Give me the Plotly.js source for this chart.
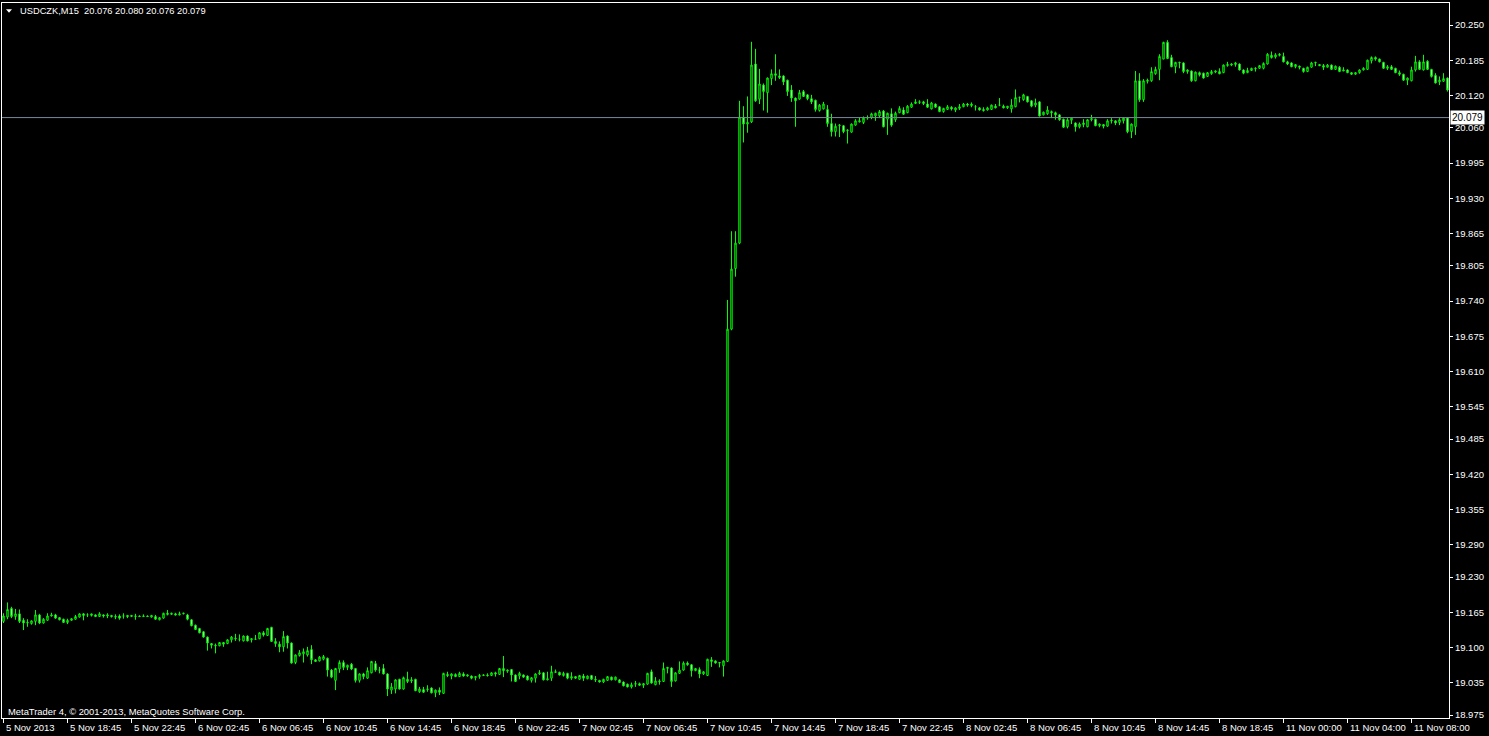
<!DOCTYPE html>
<html>
<head>
<meta charset="utf-8">
<script src="https://cdn.plot.ly/plotly-3.0.1.min.js"></script>
<style>
html,body{margin:0;padding:0;background:#000;}
#chart{width:1489px;height:736px;}
</style>
</head>
<body>
<div id="chart"></div>
<script>
// ---- data: USDCZK M15 candles ----
const symbolTitle = "USDCZK,M15  20.076 20.080 20.076 20.079";
const copyrightText = "MetaTrader 4, \u00a9 2001-2013, MetaQuotes Software Corp.";
const currentPrice = 20.079;

const openP = [
19.148,19.156,19.172,19.157,19.162,19.150,19.145,19.144,19.148,19.160,
19.145,19.150,19.158,19.160,19.155,19.152,19.146,19.150,19.152,19.156,
19.162,19.160,19.159,19.160,19.157,19.160,19.158,19.159,19.157,19.158,
19.158,19.159,19.157,19.157,19.158,19.157,19.158,19.156,19.157,19.151,
19.154,19.163,19.161,19.162,19.160,19.162,19.160,19.151,19.141,19.135,
19.129,19.119,19.107,19.104,19.103,19.109,19.107,19.114,19.117,19.115,
19.112,19.121,19.114,19.115,19.116,19.127,19.122,19.137,19.111,19.106,
19.101,19.121,19.108,19.072,19.085,19.088,19.086,19.096,19.077,19.075,
19.078,19.080,19.058,19.039,19.060,19.072,19.063,19.069,19.061,19.039,
19.051,19.043,19.053,19.070,19.058,19.061,19.051,19.021,19.023,19.041,
19.023,19.041,19.038,19.041,19.018,19.022,19.022,19.025,19.016,19.021,
19.015,19.050,19.047,19.050,19.046,19.051,19.047,19.047,19.044,19.046,
19.048,19.049,19.048,19.053,19.050,19.061,19.056,19.059,19.049,19.047,
19.049,19.047,19.039,19.043,19.051,19.053,19.040,19.043,19.055,19.054,
19.048,19.052,19.043,19.046,19.041,19.047,19.042,19.048,19.041,19.039,
19.036,19.039,19.045,19.040,19.040,19.036,19.032,19.027,19.032,19.033,
19.030,19.032,19.055,19.031,19.038,19.037,19.061,19.062,19.038,19.052,
19.058,19.071,19.068,19.057,19.059,19.051,19.048,19.077,19.075,19.071,
19.066,19.074,19.688,19.800,19.847,20.080,20.067,20.071,20.178,20.113,
20.139,20.125,20.151,20.160,20.156,20.156,20.148,20.130,20.115,20.113,
20.127,20.121,20.114,20.111,20.092,20.095,20.094,20.068,20.053,20.064,
20.064,20.055,20.052,20.065,20.071,20.070,20.078,20.079,20.082,20.082,
20.091,20.076,20.086,20.075,20.088,20.093,20.088,20.098,20.105,20.107,
20.108,20.104,20.095,20.104,20.099,20.090,20.094,20.098,20.093,20.096,
20.099,20.104,20.101,20.099,20.097,20.094,20.093,20.094,20.100,20.102,
20.100,20.097,20.095,20.099,20.116,20.112,20.118,20.110,20.102,20.108,
20.084,20.086,20.090,20.088,20.084,20.076,20.062,20.074,20.069,20.062,
20.066,20.062,20.075,20.076,20.064,20.066,20.063,20.074,20.073,20.070,
20.073,20.078,20.053,20.062,20.147,20.112,20.146,20.147,20.160,20.168,
20.187,20.218,20.190,20.173,20.180,20.180,20.164,20.165,20.147,20.162,
20.161,20.155,20.160,20.163,20.164,20.162,20.175,20.176,20.177,20.178,
20.167,20.162,20.166,20.169,20.170,20.170,20.178,20.194,20.191,20.194,
20.192,20.182,20.180,20.173,20.174,20.170,20.164,20.172,20.180,20.177,
20.175,20.172,20.176,20.168,20.172,20.165,20.167,20.162,20.159,20.162,
20.167,20.168,20.184,20.190,20.187,20.181,20.170,20.173,20.170,20.162,
20.159,20.148,20.147,20.167,20.182,20.167,20.183,20.168,20.157,20.145,
20.146,20.152];

const highP = [
19.163,19.183,19.175,19.171,19.170,19.154,19.152,19.150,19.169,19.162,
19.154,19.163,19.164,19.162,19.156,19.153,19.153,19.154,19.160,19.163,
19.163,19.163,19.162,19.161,19.165,19.161,19.163,19.160,19.161,19.161,
19.163,19.160,19.159,19.162,19.159,19.161,19.159,19.160,19.160,19.156,
19.164,19.169,19.164,19.164,19.166,19.164,19.162,19.152,19.142,19.136,
19.130,19.120,19.108,19.107,19.110,19.110,19.115,19.121,19.125,19.124,
19.122,19.122,19.117,19.123,19.128,19.130,19.136,19.138,19.117,19.111,
19.130,19.122,19.109,19.087,19.095,19.098,19.101,19.104,19.078,19.084,
19.086,19.081,19.060,19.062,19.076,19.076,19.068,19.071,19.062,19.052,
19.053,19.063,19.075,19.075,19.064,19.069,19.052,19.034,19.041,19.042,
19.046,19.055,19.045,19.042,19.027,19.027,19.030,19.026,19.022,19.026,
19.053,19.055,19.052,19.052,19.055,19.054,19.050,19.048,19.047,19.051,
19.050,19.052,19.054,19.055,19.062,19.084,19.059,19.060,19.050,19.055,
19.050,19.048,19.045,19.052,19.058,19.054,19.055,19.066,19.059,19.055,
19.055,19.053,19.054,19.047,19.049,19.051,19.048,19.049,19.047,19.040,
19.042,19.047,19.046,19.046,19.041,19.037,19.033,19.035,19.038,19.035,
19.034,19.053,19.059,19.045,19.041,19.072,19.064,19.063,19.054,19.074,
19.074,19.074,19.069,19.062,19.063,19.056,19.079,19.082,19.076,19.073,
19.076,19.742,19.869,19.869,20.110,20.100,20.118,20.219,20.206,20.169,
20.142,20.153,20.168,20.196,20.168,20.157,20.149,20.139,20.116,20.130,
20.130,20.122,20.121,20.112,20.104,20.108,20.102,20.086,20.068,20.067,
20.065,20.057,20.068,20.076,20.079,20.081,20.083,20.088,20.088,20.093,
20.093,20.088,20.096,20.090,20.100,20.098,20.102,20.107,20.113,20.111,
20.110,20.113,20.108,20.105,20.100,20.097,20.102,20.100,20.098,20.104,
20.106,20.106,20.107,20.102,20.098,20.098,20.099,20.103,20.104,20.115,
20.103,20.100,20.113,20.131,20.118,20.123,20.119,20.111,20.114,20.109,
20.090,20.100,20.092,20.090,20.085,20.077,20.078,20.080,20.070,20.070,
20.076,20.076,20.084,20.077,20.068,20.067,20.076,20.078,20.074,20.078,
20.080,20.079,20.068,20.165,20.161,20.150,20.151,20.172,20.173,20.196,
20.219,20.222,20.195,20.182,20.182,20.181,20.168,20.166,20.164,20.164,
20.162,20.163,20.167,20.166,20.170,20.177,20.182,20.179,20.182,20.179,
20.168,20.171,20.171,20.172,20.176,20.181,20.198,20.201,20.198,20.198,
20.199,20.184,20.181,20.178,20.175,20.171,20.173,20.182,20.182,20.178,
20.178,20.178,20.177,20.175,20.174,20.172,20.168,20.163,20.163,20.168,
20.172,20.186,20.192,20.192,20.188,20.182,20.176,20.176,20.171,20.166,
20.160,20.153,20.173,20.193,20.185,20.195,20.185,20.169,20.161,20.155,
20.161,20.153];

const lowP = [
19.145,19.152,19.154,19.151,19.145,19.132,19.138,19.142,19.141,19.143,
19.144,19.149,19.157,19.153,19.150,19.145,19.143,19.149,19.151,19.155,
19.150,19.156,19.157,19.156,19.156,19.155,19.154,19.155,19.152,19.151,
19.153,19.154,19.156,19.151,19.156,19.156,19.156,19.155,19.151,19.150,
19.153,19.159,19.160,19.159,19.159,19.161,19.150,19.139,19.132,19.126,
19.118,19.094,19.098,19.089,19.102,19.101,19.106,19.109,19.112,19.111,
19.111,19.111,19.109,19.114,19.115,19.120,19.121,19.110,19.101,19.091,
19.092,19.098,19.070,19.069,19.083,19.072,19.083,19.069,19.073,19.074,
19.076,19.046,19.043,19.021,19.053,19.058,19.058,19.058,19.035,19.035,
19.041,19.042,19.052,19.055,19.052,19.050,19.010,19.014,19.015,19.022,
19.022,19.034,19.034,19.019,19.016,19.016,19.018,19.015,19.008,19.012,
19.014,19.045,19.041,19.045,19.045,19.046,19.046,19.041,19.039,19.042,
19.047,19.046,19.047,19.046,19.049,19.045,19.053,19.037,19.036,19.041,
19.044,19.039,19.035,19.035,19.049,19.039,19.039,19.038,19.053,19.048,
19.046,19.041,19.040,19.042,19.040,19.038,19.041,19.040,19.036,19.035,
19.034,19.038,19.039,19.039,19.034,19.028,19.026,19.024,19.027,19.029,
19.025,19.031,19.033,19.030,19.031,19.036,19.052,19.027,19.037,19.051,
19.057,19.066,19.046,19.056,19.043,19.049,19.047,19.064,19.070,19.063,
19.046,19.073,19.686,19.785,19.845,20.033,20.051,20.069,20.108,20.104,
20.092,20.088,20.139,20.147,20.150,20.139,20.119,20.108,20.062,20.112,
20.117,20.111,20.104,20.090,20.090,20.094,20.062,20.044,20.044,20.043,
20.050,20.031,20.051,20.064,20.070,20.067,20.075,20.076,20.073,20.078,
20.061,20.047,20.062,20.071,20.087,20.084,20.087,20.097,20.104,20.104,
20.102,20.097,20.094,20.097,20.089,20.088,20.093,20.092,20.089,20.093,
20.098,20.099,20.098,20.092,20.092,20.090,20.092,20.093,20.096,20.100,
20.096,20.095,20.088,20.098,20.107,20.110,20.107,20.098,20.098,20.081,
20.083,20.084,20.078,20.075,20.073,20.060,20.059,20.067,20.053,20.059,
20.061,20.061,20.072,20.063,20.061,20.059,20.062,20.068,20.065,20.065,
20.068,20.050,20.041,20.047,20.108,20.108,20.142,20.145,20.158,20.148,
20.187,20.187,20.172,20.161,20.170,20.161,20.160,20.145,20.146,20.155,
20.151,20.154,20.158,20.161,20.159,20.161,20.173,20.174,20.173,20.166,
20.159,20.161,20.165,20.164,20.169,20.168,20.177,20.188,20.188,20.192,
20.181,20.176,20.172,20.170,20.168,20.162,20.163,20.171,20.174,20.174,
20.167,20.172,20.167,20.167,20.163,20.165,20.161,20.158,20.158,20.160,
20.166,20.167,20.179,20.184,20.181,20.169,20.167,20.167,20.161,20.156,
20.147,20.139,20.146,20.164,20.167,20.166,20.167,20.153,20.142,20.139,
20.145,20.127];

const closeP = [
19.158,19.170,19.157,19.162,19.148,19.145,19.146,19.149,19.160,19.145,
19.152,19.158,19.160,19.154,19.151,19.146,19.150,19.153,19.157,19.162,
19.159,19.160,19.162,19.157,19.162,19.158,19.160,19.157,19.156,19.154,
19.158,19.157,19.159,19.158,19.157,19.158,19.157,19.159,19.152,19.155,
19.163,19.161,19.163,19.160,19.162,19.163,19.152,19.140,19.133,19.127,
19.119,19.108,19.104,19.103,19.109,19.106,19.114,19.119,19.116,19.115,
19.121,19.112,19.116,19.115,19.127,19.123,19.135,19.111,19.107,19.101,
19.120,19.108,19.071,19.086,19.090,19.092,19.094,19.077,19.074,19.082,
19.083,19.058,19.045,19.061,19.072,19.063,19.067,19.060,19.039,19.051,
19.046,19.057,19.074,19.058,19.058,19.051,19.023,19.027,19.040,19.023,
19.044,19.037,19.040,19.020,19.023,19.017,19.023,19.016,19.021,19.017,
19.052,19.048,19.051,19.046,19.052,19.047,19.049,19.043,19.046,19.048,
19.049,19.048,19.053,19.051,19.061,19.057,19.058,19.049,19.037,19.052,
19.045,19.040,19.044,19.051,19.053,19.040,19.042,19.055,19.054,19.049,
19.052,19.043,19.046,19.043,19.048,19.043,19.047,19.041,19.040,19.036,
19.041,19.046,19.040,19.045,19.035,19.029,19.027,19.031,19.033,19.030,
19.033,19.052,19.034,19.038,19.037,19.061,19.063,19.037,19.053,19.058,
19.071,19.068,19.057,19.061,19.051,19.055,19.078,19.074,19.071,19.072,
19.075,19.688,19.799,19.847,20.080,20.067,20.070,20.176,20.110,20.141,
20.127,20.152,20.160,20.157,20.153,20.145,20.127,20.115,20.110,20.125,
20.118,20.114,20.108,20.094,20.102,20.104,20.068,20.053,20.063,20.065,
20.053,20.056,20.067,20.073,20.073,20.078,20.079,20.086,20.087,20.090,
20.062,20.087,20.065,20.087,20.096,20.085,20.100,20.104,20.108,20.108,
20.105,20.098,20.106,20.098,20.090,20.096,20.099,20.095,20.097,20.099,
20.104,20.102,20.104,20.099,20.093,20.092,20.097,20.102,20.097,20.102,
20.097,20.100,20.102,20.116,20.116,20.121,20.108,20.100,20.106,20.082,
20.089,20.093,20.088,20.084,20.075,20.061,20.075,20.078,20.062,20.067,
20.069,20.075,20.077,20.064,20.067,20.063,20.073,20.073,20.069,20.075,
20.078,20.053,20.067,20.147,20.112,20.147,20.148,20.164,20.168,20.192,
20.218,20.188,20.173,20.181,20.181,20.164,20.167,20.147,20.163,20.158,
20.152,20.162,20.164,20.165,20.160,20.176,20.177,20.178,20.180,20.167,
20.161,20.166,20.170,20.170,20.175,20.179,20.196,20.190,20.195,20.196,
20.182,20.178,20.173,20.177,20.172,20.164,20.172,20.180,20.181,20.175,
20.172,20.176,20.168,20.174,20.164,20.167,20.162,20.159,20.162,20.167,
20.170,20.185,20.190,20.187,20.182,20.170,20.173,20.168,20.162,20.159,
20.148,20.152,20.167,20.182,20.168,20.182,20.168,20.155,20.143,20.148,
20.151,20.130];

// time-axis labels (bar index of each label, and its text)
const timeTickBars = [0,16,32,48,64,80,96,112,128,144,160,176,192,208,224,240,256,272,288,304,320,336,352];
const timeTickLabels = ["5 Nov 2013","5 Nov 18:45","5 Nov 22:45","6 Nov 02:45","6 Nov 06:45","6 Nov 10:45",
  "6 Nov 14:45","6 Nov 18:45","6 Nov 22:45","7 Nov 02:45","7 Nov 06:45","7 Nov 10:45","7 Nov 14:45",
  "7 Nov 18:45","7 Nov 22:45","8 Nov 02:45","8 Nov 06:45","8 Nov 10:45","8 Nov 14:45","8 Nov 18:45",
  "11 Nov 00:00","11 Nov 04:00","11 Nov 08:00"];

// price-axis labels
const priceTicks = [20.250,20.185,20.120,20.060,19.995,19.930,19.865,19.805,19.740,19.675,19.610,
  19.545,19.485,19.420,19.355,19.290,19.230,19.165,19.100,19.035,18.975];

// ---- chart ----
const barIndex = openP.map((_, i) => i);
const FONT = "'Liberation Sans', Arial, sans-serif";

const trace = {
  type: 'candlestick',
  x: barIndex,
  open: openP, high: highP, low: lowP, close: closeP,
  increasing: {line: {color: '#00ff00', width: 1}, fillcolor: '#000000'},
  decreasing: {line: {color: '#00ff00', width: 1}, fillcolor: '#ffffff'},
  whiskerwidth: 0,
  hoverinfo: 'skip',
  showlegend: false
};

const W = 1489, H = 736;
const mL = 2, mR = 40, mT = 3, mB = 18;
const plotW = W - mL - mR, plotH = H - mT - mB;
const px2paperX = p => (p - mL) / plotW;
const px2paperY = p => (H - mB - p) / plotH;

const annotations = timeTickBars.map((b, k) => ({
  x: b, xref: 'x', y: 0, yref: 'paper',
  xanchor: 'left', yanchor: 'top', xshift: 0, yshift: -2,
  text: timeTickLabels[k], showarrow: false,
  font: {family: FONT, size: 9.5, color: '#ffffff'}
}));

annotations.push({
  x: px2paperX(18), xref: 'paper', y: px2paperY(10.5), yref: 'paper',
  xanchor: 'left', yanchor: 'middle', text: symbolTitle, showarrow: false,
  font: {family: FONT, size: 9.3, color: '#ffffff'}
});
annotations.push({
  x: px2paperX(6), xref: 'paper', y: px2paperY(711), yref: 'paper',
  xanchor: 'left', yanchor: 'middle', text: copyrightText, showarrow: false,
  font: {family: FONT, size: 9.4, color: '#ffffff'}
});
annotations.push({
  x: 1, xref: 'paper', xshift: 1, y: currentPrice, yref: 'y',
  xanchor: 'left', yanchor: 'middle', text: currentPrice.toFixed(3), showarrow: false,
  bgcolor: '#ffffff', borderpad: 1,
  font: {family: FONT, size: 10, color: '#000000'}
});

const tx0 = px2paperX(6), tx1 = px2paperX(12), txm = px2paperX(9);
const ty0 = px2paperY(9.3), ty1 = px2paperY(12.7);

const layout = {
  width: W, height: H,
  margin: {l: mL, r: mR, t: mT, b: mB, pad: 0},
  paper_bgcolor: '#000000', plot_bgcolor: '#000000',
  showlegend: false,
  font: {family: FONT, color: '#ffffff', size: 10},
  boxgap: 0.5,
  xaxis: {
    type: 'linear', range: [-0.375, 361.375],
    rangeslider: {visible: false},
    tickvals: timeTickBars, showticklabels: false,
    ticks: 'outside', ticklen: 4, tickcolor: '#ffffff', tickwidth: 1,
    showgrid: false, zeroline: false,
    showline: true, mirror: true, linecolor: '#ffffff', linewidth: 1,
    fixedrange: true
  },
  yaxis: {
    side: 'right', range: [18.9695, 20.2907],
    tickvals: priceTicks, ticktext: priceTicks.map(v => v.toFixed(3)),
    ticks: 'outside', ticklen: 3, tickcolor: '#ffffff', tickwidth: 1,
    tickfont: {family: FONT, size: 9.5, color: '#ffffff'},
    showgrid: false, zeroline: false,
    showline: true, mirror: true, linecolor: '#ffffff', linewidth: 1,
    fixedrange: true
  },
  shapes: [
    {type: 'line', xref: 'paper', yref: 'y', x0: 0, x1: 1, y0: currentPrice, y1: currentPrice,
     line: {color: '#778899', width: 1}},
    {type: 'path', xref: 'paper', yref: 'paper',
     path: `M ${tx0},${ty0} L ${tx1},${ty0} L ${txm},${ty1} Z`,
     fillcolor: '#ffffff', line: {width: 0}}
  ],
  annotations: annotations
};

Plotly.newPlot('chart', [trace], layout, {staticPlot: true, displayModeBar: false});
</script>
</body>
</html>
